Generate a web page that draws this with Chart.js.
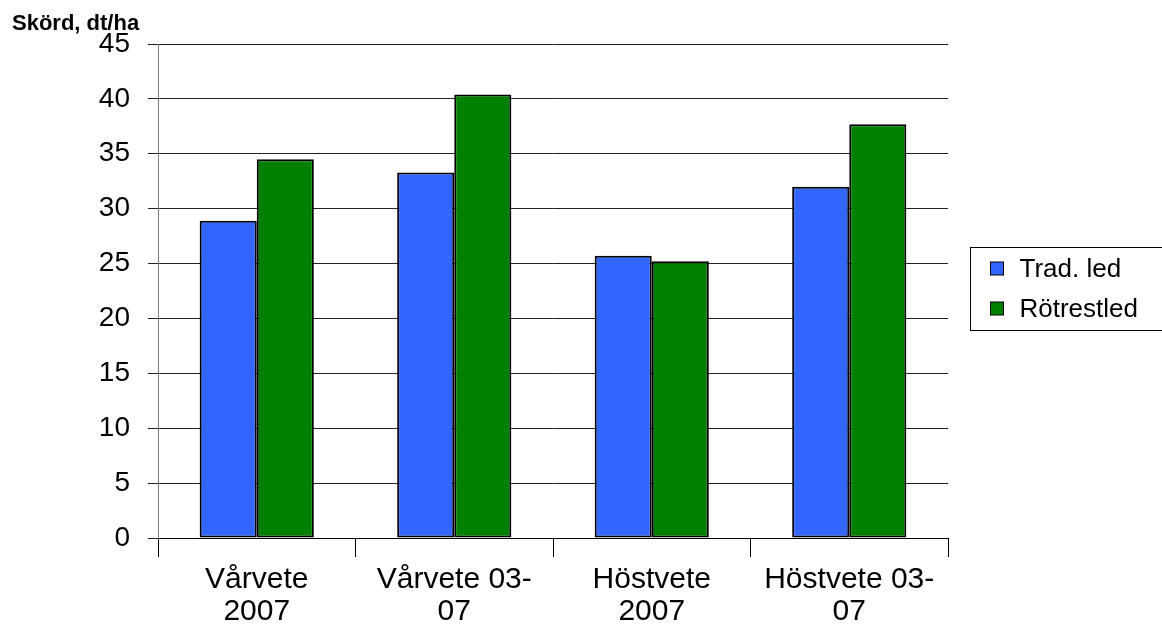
<!DOCTYPE html>
<html>
<head>
<meta charset="utf-8">
<script src="https://cdn.jsdelivr.net/npm/chart.js@4/dist/chart.umd.min.js"></script>
<style>
html, body { margin: 0; padding: 0; background: #fff; }
#wrap { width: 1162px; height: 627px; }
</style>
</head>
<body>
<div id="wrap"><canvas id="chart" width="1162" height="627"></canvas></div>
<script>
// data
const categories = [['Vårvete', '2007'], ['Vårvete 03-', '07'], ['Höstvete', '2007'], ['Höstvete 03-', '07']];
const seriesNames = ['Trad. led', 'Rötrestled'];
const tradLed = [28.9, 33.3, 25.7, 32.0];
const rotrestled = [34.5, 40.4, 25.2, 37.7];
const yMin = 0, yMax = 45, yStep = 5;
const yTitle = 'Skörd, dt/ha';

const colors = ['#3366ff', '#008000'];
const FONT = '"Liberation Sans", Arial, sans-serif';

// title above the y axis
const titlePlugin = {
  id: 'yTitle',
  afterDraw(chart) {
    const ctx = chart.ctx;
    ctx.save();
    ctx.font = 'bold 22px ' + FONT;
    ctx.fillStyle = '#000';
    ctx.textBaseline = 'alphabetic';
    ctx.fillText(yTitle, 12, 30);
    ctx.restore();
  }
};

// boxed legend on the right, cut by the edge like in the original
const legendPlugin = {
  id: 'boxLegend',
  afterDraw(chart) {
    const ctx = chart.ctx;
    const x = 970.5, y = 247.5;
    ctx.save();
    ctx.strokeStyle = '#000';
    ctx.lineWidth = 1;
    ctx.strokeRect(x, y, 220, 83);
    ctx.font = '26px ' + FONT;
    ctx.textBaseline = 'middle';
    chart.data.datasets.forEach((ds, i) => {
      const cy = 269 + i * 40;
      ctx.fillStyle = ds.backgroundColor;
      ctx.fillRect(x + 20, cy - 7, 13, 13);
      ctx.strokeRect(x + 20, cy - 7, 13, 13);
      ctx.fillStyle = '#000';
      ctx.fillText(ds.label, x + 49, cy + 1);
    });
    ctx.restore();
  }
};

new Chart(document.getElementById('chart'), {
  type: 'bar',
  data: {
    labels: categories,
    datasets: [
      { label: seriesNames[0], data: tradLed, backgroundColor: colors[0] },
      { label: seriesNames[1], data: rotrestled, backgroundColor: colors[1] }
    ]
  },
  options: {
    responsive: false,
    animation: false,
    layout: { padding: { top: 44, right: 214, left: 0, bottom: 0 } },
    datasets: {
      bar: {
        barPercentage: 1,
        categoryPercentage: 0.578,
        borderColor: '#000',
        borderWidth: 2,
        borderSkipped: false
      }
    },
    plugins: {
      legend: { display: false },
      tooltip: { enabled: false }
    },
    scales: {
      x: {
        offset: true,
        grid: { offset: true, drawOnChartArea: false, drawTicks: true, tickLength: 19, color: '#000' },
        border: { color: '#000', width: 1 },
        ticks: { color: '#000', font: { family: FONT, size: 30, lineHeight: 1.07 }, padding: 7, maxRotation: 0 },
        afterFit(scale) { scale.height = 89; }
      },
      y: {
        min: yMin,
        max: yMax,
        ticks: { stepSize: yStep, color: '#000', font: { family: FONT, size: 28 }, padding: 18 },
        grid: { color: '#222', lineWidth: 1, tickLength: 10 },
        border: { color: '#808080', width: 1 },
        afterFit(scale) { scale.width = 158; }
      }
    }
  },
  plugins: [titlePlugin, legendPlugin]
});
</script>
</body>
</html>
